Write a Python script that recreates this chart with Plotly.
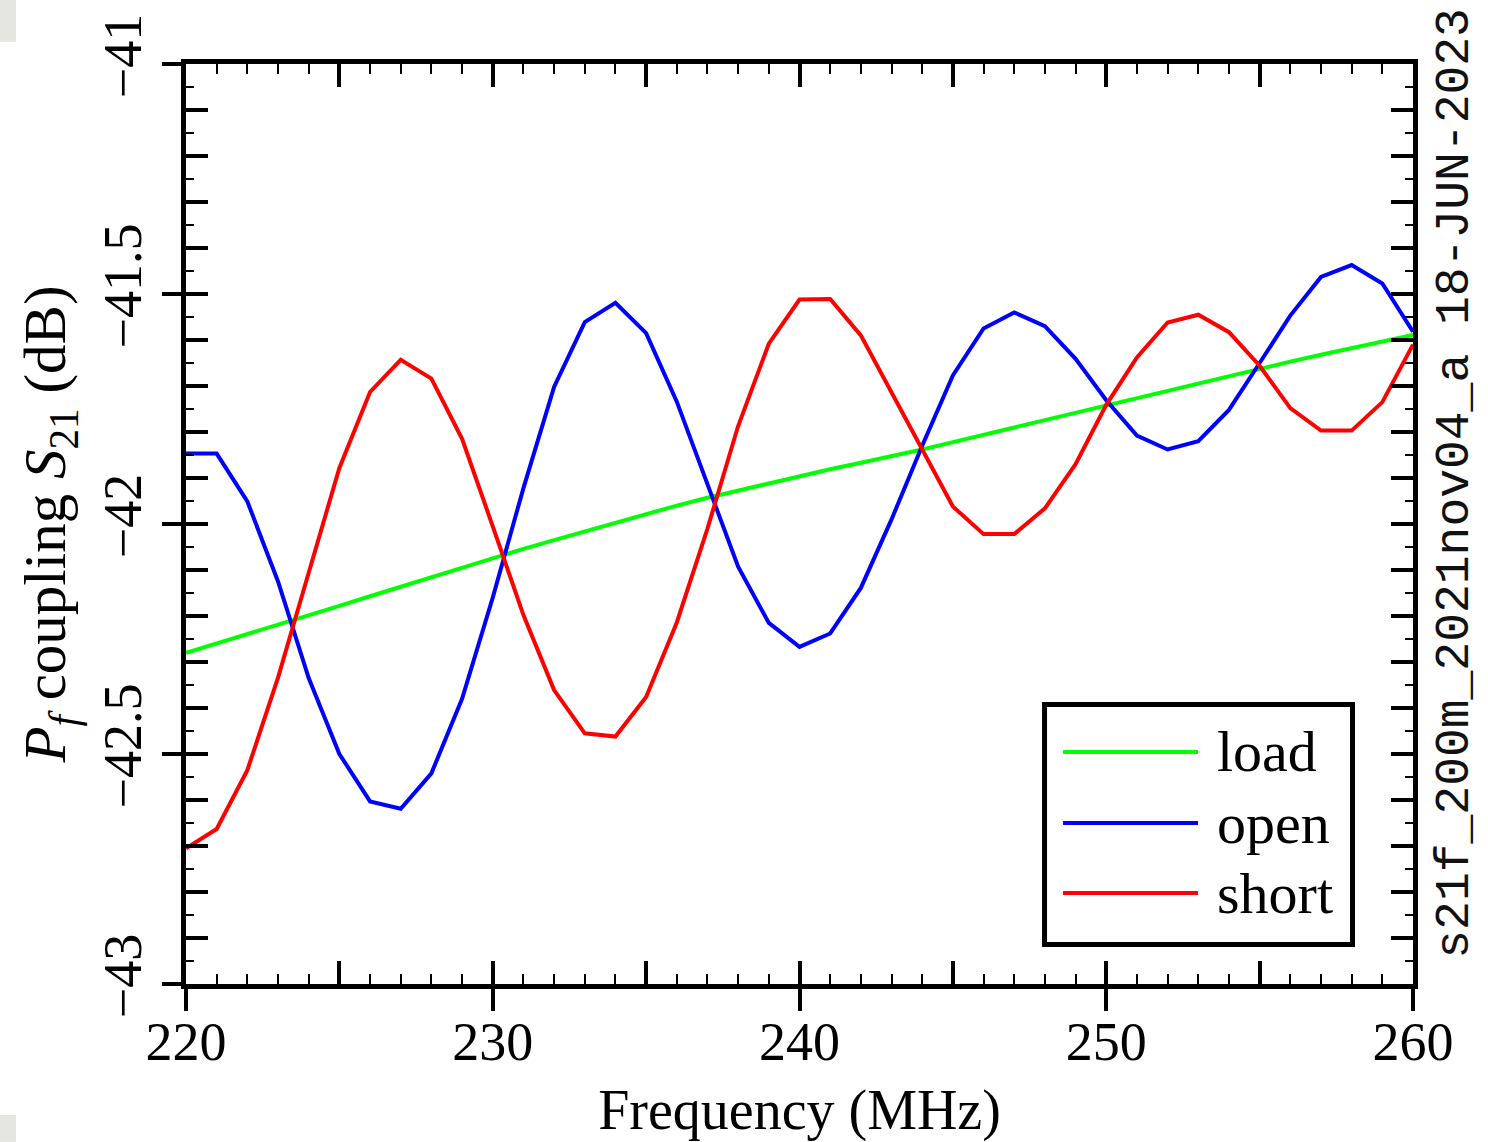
import plotly.graph_objects as go

# Frequency grid (MHz), 1 MHz steps
freq_mhz = list(range(220, 261))

# Pf coupling S21 (dB) for the three terminations
load_db = [
    -42.280, -42.260, -42.240, -42.220, -42.199, -42.178, -42.157, -42.136,
    -42.115, -42.094, -42.073, -42.054, -42.035, -42.016, -41.997, -41.978,
    -41.960, -41.943, -41.927, -41.911, -41.896, -41.881, -41.867, -41.853,
    -41.838, -41.822, -41.806, -41.790, -41.774, -41.759, -41.743, -41.727,
    -41.711, -41.695, -41.678, -41.661, -41.647, -41.632, -41.618, -41.603,
    -41.589,
]
open_db = [
    -41.847, -41.847, -41.951, -42.125, -42.335, -42.500, -42.603, -42.619,
    -42.542, -42.380, -42.160, -41.922, -41.702, -41.561, -41.519, -41.585,
    -41.734, -41.915, -42.093, -42.215, -42.267, -42.238, -42.139, -41.990,
    -41.830, -41.677, -41.575, -41.540, -41.570, -41.641, -41.731, -41.808,
    -41.838, -41.820, -41.752, -41.650, -41.547, -41.463, -41.437, -41.477,
    -41.582,
]
short_db = [
    -42.705, -42.663, -42.535, -42.334, -42.106, -41.878, -41.713, -41.643,
    -41.684, -41.815, -42.005, -42.198, -42.361, -42.455, -42.462, -42.376,
    -42.214, -42.010, -41.787, -41.608, -41.512, -41.511, -41.590, -41.713,
    -41.836, -41.962, -42.022, -42.022, -41.966, -41.870, -41.741, -41.638,
    -41.562, -41.545, -41.583, -41.656, -41.748, -41.797, -41.797, -41.735,
    -41.610,
]

series_names = ["load", "open", "short"]
series_values = [load_db, open_db, short_db]
series_colors = ["#00ff00", "#0000ff", "#ff0000"]

x_range = [220, 260]
y_range = [-43, -41]
stamp_text = "s21f_200m_2021nov04_a 18-JUN-2023"

SERIF = "Liberation Serif, Times New Roman, serif"
MONO = "Liberation Mono, Courier New, monospace"

fig = go.Figure()
for name, vals, col in zip(series_names, series_values, series_colors):
    fig.add_trace(go.Scatter(
        x=freq_mhz, y=vals, mode="lines", name=name,
        line=dict(color=col, width=4), showlegend=False,
        xaxis="x", yaxis="y",
    ))

# empty traces carrying the extra tick axes
fig.add_trace(go.Scatter(x=[], y=[], xaxis="x2", yaxis="y2",
                         showlegend=False, hoverinfo="skip"))
fig.add_trace(go.Scatter(x=[], y=[], xaxis="x3", yaxis="y3",
                         showlegend=False, hoverinfo="skip"))

tick_font = dict(family=SERIF, size=54, color="black")

fig.update_layout(
    width=1488, height=1142,
    margin=dict(l=186, r=75, t=64, b=158, autoexpand=False),
    paper_bgcolor="white", plot_bgcolor="white",
    showlegend=False,
    # bottom axis: labels only
    xaxis=dict(
        range=x_range, tickmode="linear", tick0=220, dtick=10,
        ticks="", ticklabelstandoff=6,
        showline=True, linecolor="black", linewidth=5, mirror=True,
        showgrid=False, zeroline=False, tickfont=tick_font,
        title=dict(text="Frequency (MHz)",
                   font=dict(family=SERIF, size=56, color="black"),
                   standoff=30),
    ),
    # inner ticks, mirrored on top
    xaxis2=dict(
        range=x_range, overlaying="x", anchor="y", side="bottom",
        tickmode="linear", tick0=220, dtick=5,
        ticks="inside", ticklen=23, tickwidth=4, tickcolor="black",
        showline=True, linecolor="black", linewidth=5, mirror="ticks",
        showticklabels=False, showgrid=False, zeroline=False,
        minor=dict(ticks="inside", tick0=220, dtick=1, ticklen=10,
                   tickwidth=2, tickcolor="black", showgrid=False),
    ),
    # outer major ticks on the bottom edge
    xaxis3=dict(
        range=x_range, overlaying="x", anchor="y", side="bottom",
        tickmode="linear", tick0=220, dtick=10,
        ticks="outside", ticklen=26, tickwidth=4, tickcolor="black",
        showline=False, showticklabels=False, showgrid=False,
        zeroline=False,
    ),
    # left axis: labels only
    yaxis=dict(
        range=y_range, tickmode="linear", tick0=-43, dtick=0.5,
        ticks="", ticklabelstandoff=18,
        showline=True, linecolor="black", linewidth=5, mirror=True,
        showgrid=False, zeroline=False, tickfont=tick_font, tickangle=-90,
        title=dict(
            text="<i>P</i><sub><i>f</i></sub> coupling <i>S</i><sub>21</sub> (dB)",
            font=dict(family=SERIF, size=59, color="black"),
            standoff=10),
    ),
    # inner ticks, mirrored on the right
    yaxis2=dict(
        range=y_range, overlaying="y", anchor="x", side="left",
        tickmode="linear", tick0=-43, dtick=0.1,
        ticks="inside", ticklen=22, tickwidth=4, tickcolor="black",
        showline=True, linecolor="black", linewidth=5, mirror="ticks",
        showticklabels=False, showgrid=False, zeroline=False,
        minor=dict(ticks="inside", tick0=-43, dtick=0.05, ticklen=8,
                   tickwidth=2, tickcolor="black", showgrid=False),
    ),
    # outer major ticks on the left edge
    yaxis3=dict(
        range=y_range, overlaying="y", anchor="x", side="left",
        tickmode="linear", tick0=-43, dtick=0.5,
        ticks="outside", ticklen=23, tickwidth=4, tickcolor="black",
        showline=False, showticklabels=False, showgrid=False,
        zeroline=False,
    ),
)

# file / date stamp along the right edge
fig.add_annotation(
    text=stamp_text, xref="paper", yref="paper", x=1.034, y=0.5446,
    xanchor="center", yanchor="middle", textangle=-90, showarrow=False,
    font=dict(family=MONO, size=48, color="#111111"),
)

# legend box with long line samples
shapes = [dict(type="rect", xref="paper", yref="paper",
               x0=0.6997, x1=0.9507, y0=0.0429, y1=0.3038,
               line=dict(color="black", width=5), fillcolor="white",
               layer="above")]
legend_rows_y = [0.2522, 0.1750, 0.0989]
for name, col, ly in zip(series_names, series_colors, legend_rows_y):
    shapes.append(dict(type="line", xref="paper", yref="paper",
                       x0=0.7148, x1=0.8248, y0=ly, y1=ly,
                       line=dict(color=col, width=4), layer="above"))
    fig.add_annotation(text=name, xref="paper", yref="paper",
                       x=0.8386, y=ly, xanchor="left", yanchor="middle",
                       showarrow=False,
                       font=dict(family=SERIF, size=58, color="black"))

# light grey page-corner patches
for x0, x1, y0, y1 in [(-0.1516, -0.1385, 1.0239, 1.0696),
                       (-0.1516, -0.1385, -0.1717, -0.1424),
                       (1.0636, 1.0766, 1.0239, 1.0696)]:
    shapes.append(dict(type="rect", xref="paper", yref="paper",
                       x0=x0, x1=x1, y0=y0, y1=y1,
                       line=dict(width=0), fillcolor="#e6e6e0"))

fig.update_layout(shapes=shapes)

fig.write_html("out.html")
